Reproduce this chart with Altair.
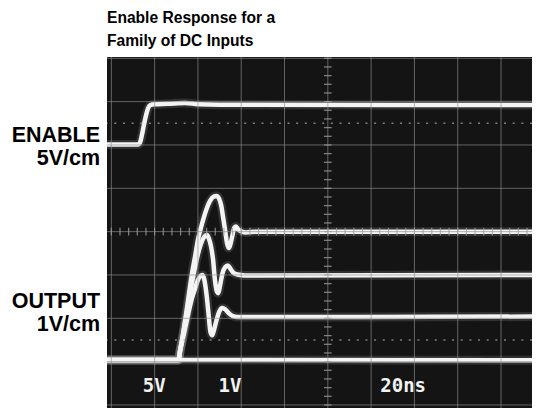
import altair as alt
import pandas as pd

# ---- trace readings (x in divisions of 20 ns, y in graticule divisions) ----
enable_x = [-0.1, 0.62, 0.66, 0.70, 0.75, 0.80, 0.85, 0.90, 1.00, 1.30, 1.70, 2.00, 2.50, 9.9]
enable_y = [2.01, 2.01, 2.05, 2.20, 2.45, 2.68, 2.85, 2.92, 2.94, 2.95, 2.97, 2.94, 2.93, 2.92]

out0_x = [-0.1, 9.9]
out0_y = [-2.96, -2.97]

outA_x = [-0.1, 1.55, 1.59, 1.66, 1.73, 1.80, 1.87, 1.94, 2.00, 2.07, 2.14, 2.21, 2.28, 2.35, 2.43,
          2.49, 2.54, 2.58, 2.63, 2.67, 2.71, 2.74, 2.79, 2.84, 2.88, 2.92, 3.00, 3.11, 3.32, 9.9]
outA_y = [-2.96, -2.96, -2.73, -2.34, -1.88, -1.39, -0.93, -0.54, -0.19, 0.09, 0.34, 0.55, 0.71, 0.80, 0.82,
          0.76, 0.59, 0.34, 0.02, -0.26, -0.38, -0.33, -0.12, 0.09, 0.12, 0.06, 0.01, -0.02, 0.0, 0.0]

outB_x = [-0.1, 1.55, 1.59, 1.66, 1.73, 1.80, 1.87, 1.94, 2.00, 2.07, 2.14, 2.21, 2.25, 2.30, 2.35,
          2.39, 2.44, 2.47, 2.51, 2.57, 2.63, 2.69, 2.74, 2.81, 2.91, 3.09, 9.9]
outB_y = [-2.96, -2.96, -2.73, -2.36, -1.95, -1.53, -1.14, -0.79, -0.52, -0.28, -0.13, -0.08, -0.15, -0.33, -0.65,
          -1.09, -1.39, -1.42, -1.25, -0.95, -0.82, -0.78, -0.84, -0.94, -0.99, -1.01, -1.00]

outC_x = [-0.1, 1.55, 1.59, 1.66, 1.73, 1.80, 1.87, 1.94, 2.00, 2.07, 2.11, 2.15, 2.20, 2.25, 2.29,
          2.33, 2.37, 2.43, 2.49, 2.56, 2.63, 2.70, 2.79, 2.92, 9.9]
outC_y = [-2.96, -2.96, -2.75, -2.43, -2.11, -1.79, -1.51, -1.30, -1.12, -1.01, -1.00, -1.12, -1.46, -1.95, -2.32,
          -2.39, -2.27, -2.04, -1.85, -1.76, -1.79, -1.87, -1.94, -1.97, -1.96]

# graticule
grid_x = [0, 1, 2, 3, 4, 5, 6, 7, 8, 9]
grid_y = [-4, -3, -2, -1, 0, 1, 2, 3, 4]
dotted_y = [2.5, -2.5]

# texts
screen_text = ["5V", "1V", "20ns"]
screen_text_x = [0.99, 2.74, 6.74]
screen_text_y = [-3.69, -3.69, -3.69]

side_text = ["ENABLE", "5V/cm", "OUTPUT", "1V/cm"]
side_text_y = [2.06, 1.53, -1.76, -2.29]

title_lines = ["Enable Response for a", "Family of DC Inputs"]
title_y = [4.82, 4.29]

# ---- build tables ----
rows = []
for name, xs, ys in [("enable", enable_x, enable_y), ("out0", out0_x, out0_y),
                     ("outA", outA_x, outA_y), ("outB", outB_x, outB_y), ("outC", outC_x, outC_y)]:
    for i, (x, y) in enumerate(zip(xs, ys)):
        rows.append({"trace": name, "x": x, "y": y, "i": i})
traces = pd.DataFrame(rows)

vgrid = pd.DataFrame({"x": grid_x})
hgrid = pd.DataFrame({"y": grid_y})
dots = pd.DataFrame({"y": dotted_y})
vticks = pd.DataFrame({"y": [k * 0.2 for k in range(-20, 21)]})
vticks["x"] = 4.91
vticks["x2"] = 5.09
hticks = pd.DataFrame({"x": [k * 0.2 for k in range(0, 50)]})
hticks["y"] = -0.09
hticks["y2"] = 0.09

scr = pd.DataFrame({"t": screen_text, "x": screen_text_x, "y": screen_text_y})
side = pd.DataFrame({"t": side_text, "y": side_text_y})
side["x"] = -0.26
ttl = pd.DataFrame({"t": title_lines, "y": title_y})
ttl["x"] = -0.1

PLOT_W = 425
X = alt.Scale(domain=[-0.1, -0.1 + PLOT_W / 43.3], nice=False, zero=False)
Y = alt.Scale(domain=[-4.07, 4.03], nice=False, zero=False)


def xe(f="x"):
    return alt.X(f"{f}:Q", scale=X, axis=None)


def ye(f="y"):
    return alt.Y(f"{f}:Q", scale=Y, axis=None)


glow = alt.Chart(traces).mark_line(
    color="#d0d0d0", strokeWidth=9, opacity=0.16, interpolate="monotone", strokeCap="round", clip=True
).encode(x=xe(), y=ye(), detail="trace:N", order="i:Q")

core = alt.Chart(traces).mark_line(
    color="#f4f4f4", strokeWidth=4.5, interpolate="monotone", strokeCap="round", strokeJoin="round", clip=True
).encode(x=xe(), y=ye(), detail="trace:N", order="i:Q")

vg = alt.Chart(vgrid).mark_rule(color="#8f8f8f", strokeWidth=1, opacity=0.65).encode(x=xe())
hg = alt.Chart(hgrid).mark_rule(color="#8f8f8f", strokeWidth=1, opacity=0.65).encode(y=ye())
dl = alt.Chart(dots).mark_rule(color="#9a9a9a", strokeWidth=1.6, strokeDash=[2, 6.66], opacity=0.8).encode(y=ye())
vt = alt.Chart(vticks).mark_rule(color="#a0a0a0", strokeWidth=1.2, opacity=0.8).encode(
    x=xe(), x2="x2:Q", y=ye())
ht = alt.Chart(hticks).mark_rule(color="#a0a0a0", strokeWidth=1.2, opacity=0.8, clip=True).encode(
    x=xe(), y=ye(), y2="y2:Q")

st = alt.Chart(scr).mark_text(
    color="#f2f2f2", font="DejaVu Sans Mono", fontWeight="bold", fontSize=19, align="center",
    baseline="alphabetic"
).encode(x=xe(), y=ye(), text="t:N")

sd = alt.Chart(side).mark_text(
    color="#000000", font="Liberation Sans", fontWeight="bold", fontSize=21.5, align="right",
    baseline="alphabetic"
).encode(x=xe(), y=ye(), text="t:N")

tt = alt.Chart(ttl).mark_text(
    color="#000000", font="Liberation Sans", fontWeight="bold", fontSize=15.6,
    align="left", baseline="alphabetic"
).encode(x=xe(), y=ye(), text="t:N")

chart = alt.layer(glow, core, vg, hg, dl, vt, ht, st, sd, tt).properties(
    width=PLOT_W, height=351,
    autosize=alt.AutoSizeParams(type="none"),
    padding={"left": 99, "top": 49, "right": 0, "bottom": 0},
).configure_view(fill="#141414", stroke="#141414")

chart.save("out.html", embed_options={"renderer": "svg", "actions": False})
